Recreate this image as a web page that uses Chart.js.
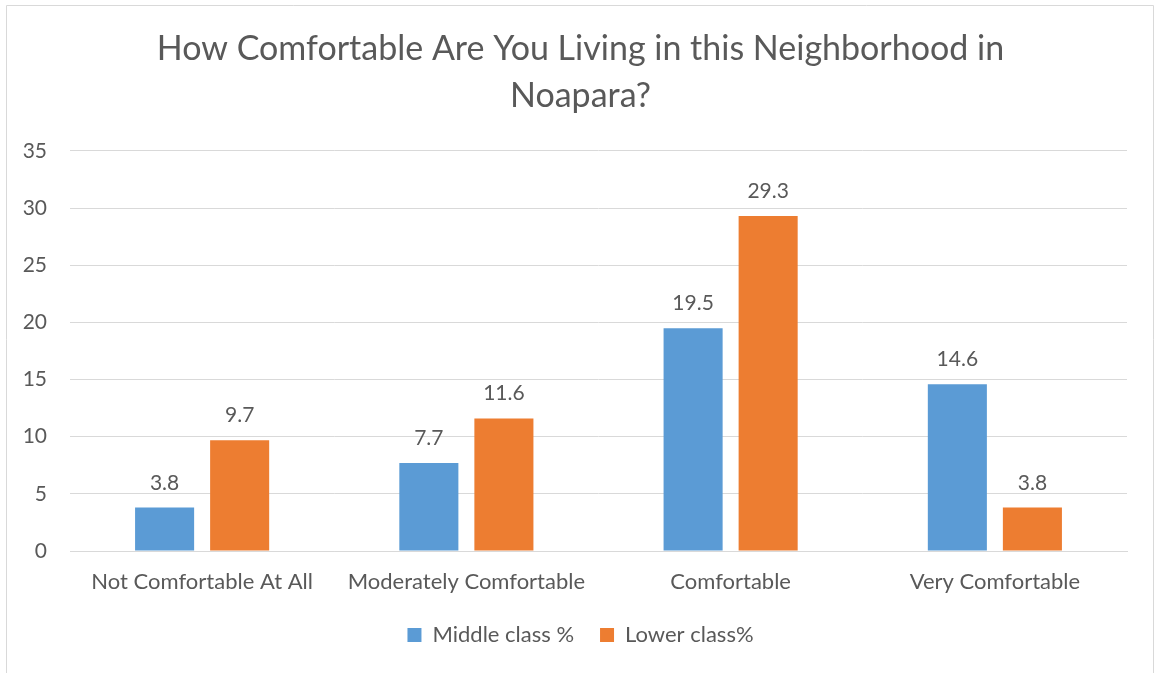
<!DOCTYPE html>
<html>
<head>
<meta charset="utf-8">
<script src="https://cdn.jsdelivr.net/npm/chart.js@4/dist/chart.umd.min.js"></script>
<style>
  html, body { margin: 0; padding: 0; background: #fff; }
  #wrap { position: relative; width: 1155px; height: 673px; }
</style>
</head>
<body>
<div id="wrap"><canvas id="c" width="1155" height="673"></canvas></div>
<script>
const categories = ["Not Comfortable At All", "Moderately Comfortable", "Comfortable", "Very Comfortable"];
const middleClass = [3.8, 7.7, 19.5, 14.6];
const lowerClass = [9.7, 11.6, 29.3, 3.8];
const seriesNames = ["Middle class %", "Lower class%"];
const titleLines = ["How Comfortable Are You Living in this Neighborhood in", "Noapara?"];

const FONT = "Lato, 'Open Sans', sans-serif";
const TEXT = "#595959";

const borderPlugin = {
  id: "border",
  beforeDraw(chart) {
    const ctx = chart.ctx;
    ctx.save();
    ctx.strokeStyle = "#D9D9D9";
    ctx.lineWidth = 1;
    ctx.beginPath();
    ctx.moveTo(6.5, 673);
    ctx.lineTo(6.5, 5.5);
    ctx.lineTo(1153.5, 5.5);
    ctx.lineTo(1153.5, 673);
    ctx.stroke();
    ctx.restore();
  }
};

const labelPlugin = {
  id: "valueLabels",
  afterDatasetsDraw(chart) {
    const ctx = chart.ctx;
    ctx.save();
    ctx.fillStyle = TEXT;
    ctx.font = "21px " + FONT;
    ctx.textAlign = "center";
    ctx.textBaseline = "alphabetic";
    chart.data.datasets.forEach((ds, di) => {
      const meta = chart.getDatasetMeta(di);
      meta.data.forEach((bar, i) => {
        ctx.fillText(ds.data[i].toFixed(1), bar.x, bar.y - 18);
      });
    });
    ctx.restore();
  }
};

new Chart(document.getElementById("c"), {
  type: "bar",
  data: {
    labels: categories,
    datasets: [
      { label: seriesNames[0], data: middleClass, backgroundColor: "#5B9BD5" },
      { label: seriesNames[1], data: lowerClass, backgroundColor: "#ED7D31" }
    ]
  },
  options: {
    responsive: false,
    animation: false,
    devicePixelRatio: 1,
    layout: { padding: { left: 6, right: 0, top: 0, bottom: 17 } },
    datasets: { bar: { categoryPercentage: 0.568, barPercentage: 0.787 } },
    plugins: {
      title: {
        display: true,
        text: titleLines,
        color: TEXT,
        font: { family: FONT, size: 34, weight: "normal", lineHeight: 1.382 },
        padding: { top: 26, bottom: 31 }
      },
      legend: {
        position: "bottom",
        labels: {
          color: TEXT,
          font: { family: FONT, size: 22 },
          boxWidth: 14,
          boxHeight: 14,
          padding: 26
        }
      },
      tooltip: { enabled: false }
    },
    scales: {
      x: {
        grid: { display: false, drawTicks: false },
        border: { color: "#D9D9D9", width: 1 },
        ticks: { color: TEXT, font: { family: FONT, size: 22 }, padding: 18, maxRotation: 0, autoSkip: false },
        afterFit(scale) { scale.height = 47; }
      },
      y: {
        min: 0, max: 35,
        ticks: { stepSize: 5, color: TEXT, font: { family: FONT, size: 21 }, padding: 23 },
        grid: { color: "#D9D9D9", drawTicks: false },
        border: { display: false },
        afterFit(scale) { scale.width = 64; }
      },
      yRight: {
        position: "right",
        display: true,
        ticks: { display: false },
        grid: { display: false, drawTicks: false },
        border: { display: false },
        afterFit(scale) { scale.width = 28; }
      }
    }
  },
  plugins: [borderPlugin, labelPlugin]
});
</script>
</body>
</html>
